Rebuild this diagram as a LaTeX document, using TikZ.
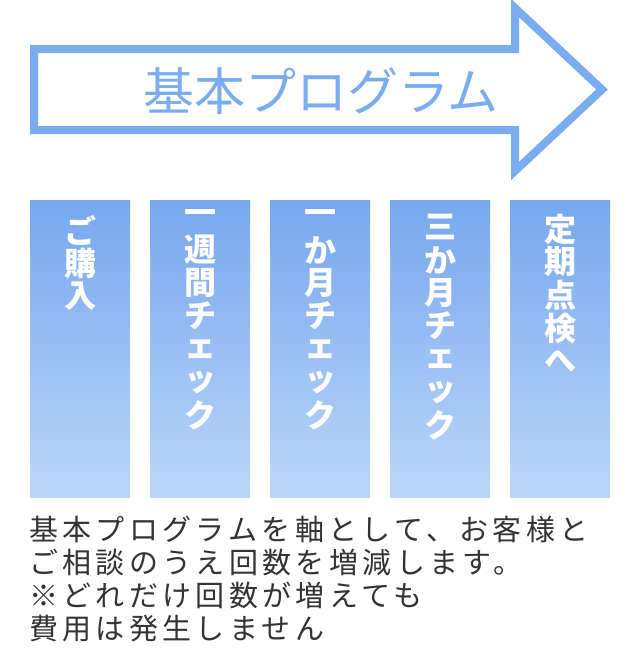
\documentclass[tikz,border=0pt]{standalone}
\usepackage{fontspec}
\newfontfamily\jpfont{Noto Sans CJK JP}
\newfontfamily\jpwide{Noto Sans CJK JP}[LetterSpace=15]
\definecolor{arrowblue}{RGB}{122,173,240}
\definecolor{coltop}{RGB}{118,167,238}
\definecolor{colbot}{RGB}{188,214,250}
\definecolor{notegray}{RGB}{51,51,51}
\tikzset{
	colbox/.style={anchor=north, minimum width=100pt, minimum height=297pt, inner sep=0pt, top color=coltop, bottom color=colbot},
	colchar/.style={text=white, inner sep=0pt, font=\jpfont\bfseries\fontsize{32}{32}\selectfont},
}

\begin{document}
\begin{tikzpicture}[x=1pt, y=-1pt]
	\useasboundingbox (0,0) rectangle (640,672);
	% big arrow
	\draw[arrowblue, line width=8pt] (34,49) -- (515,49) -- (515,8) -- (602,89.5) -- (515,171) -- (515,130) -- (34,130) -- cycle;
	\node[arrowblue, font=\jpfont\fontsize{51}{51}\selectfont, inner sep=0pt] (title) at (321,91) {基本プログラム};
	% steps
	\node[colbox] (step1) at (80,200) {};
	\node[colbox] (step2) at (200,200) {};
	\node[colbox] (step3) at (320,200) {};
	\node[colbox] (step4) at (440,200) {};
	\node[colbox] (step5) at (560,200) {};
	\foreach \ch [count=\k] in {ご,購,入}
		\node[colchar] (step1-\k) at (80,197+33*\k) {\ch};
	\foreach \ch [count=\k] in {一,週,間,チ,ェ,ッ,ク}
		\node[colchar] (step2-\k) at (200,184+33*\k) {\ch};
	\foreach \ch [count=\k] in {一,か,月,チ,ェ,ッ,ク}
		\node[colchar] (step3-\k) at (320,184+33*\k) {\ch};
	\foreach \ch [count=\k] in {三,か,月,チ,ェ,ッ,ク}
		\node[colchar] (step4-\k) at (440,194+33*\k) {\ch};
	\foreach \ch [count=\k] in {定,期,点,検,へ}
		\node[colchar] (step5-\k) at (560,196+33*\k) {\ch};
	% note below
	\node[anchor=north west, align=left, inner sep=0pt, text=notegray, font=\jpwide\fontsize{29}{33}\selectfont] (note) at (29,516)
		{基本プログラムを軸として、お客様と\\ご相談のうえ回数を増減します。\\※どれだけ回数が増えても\\費用は発生しません};
\end{tikzpicture}
\end{document}
